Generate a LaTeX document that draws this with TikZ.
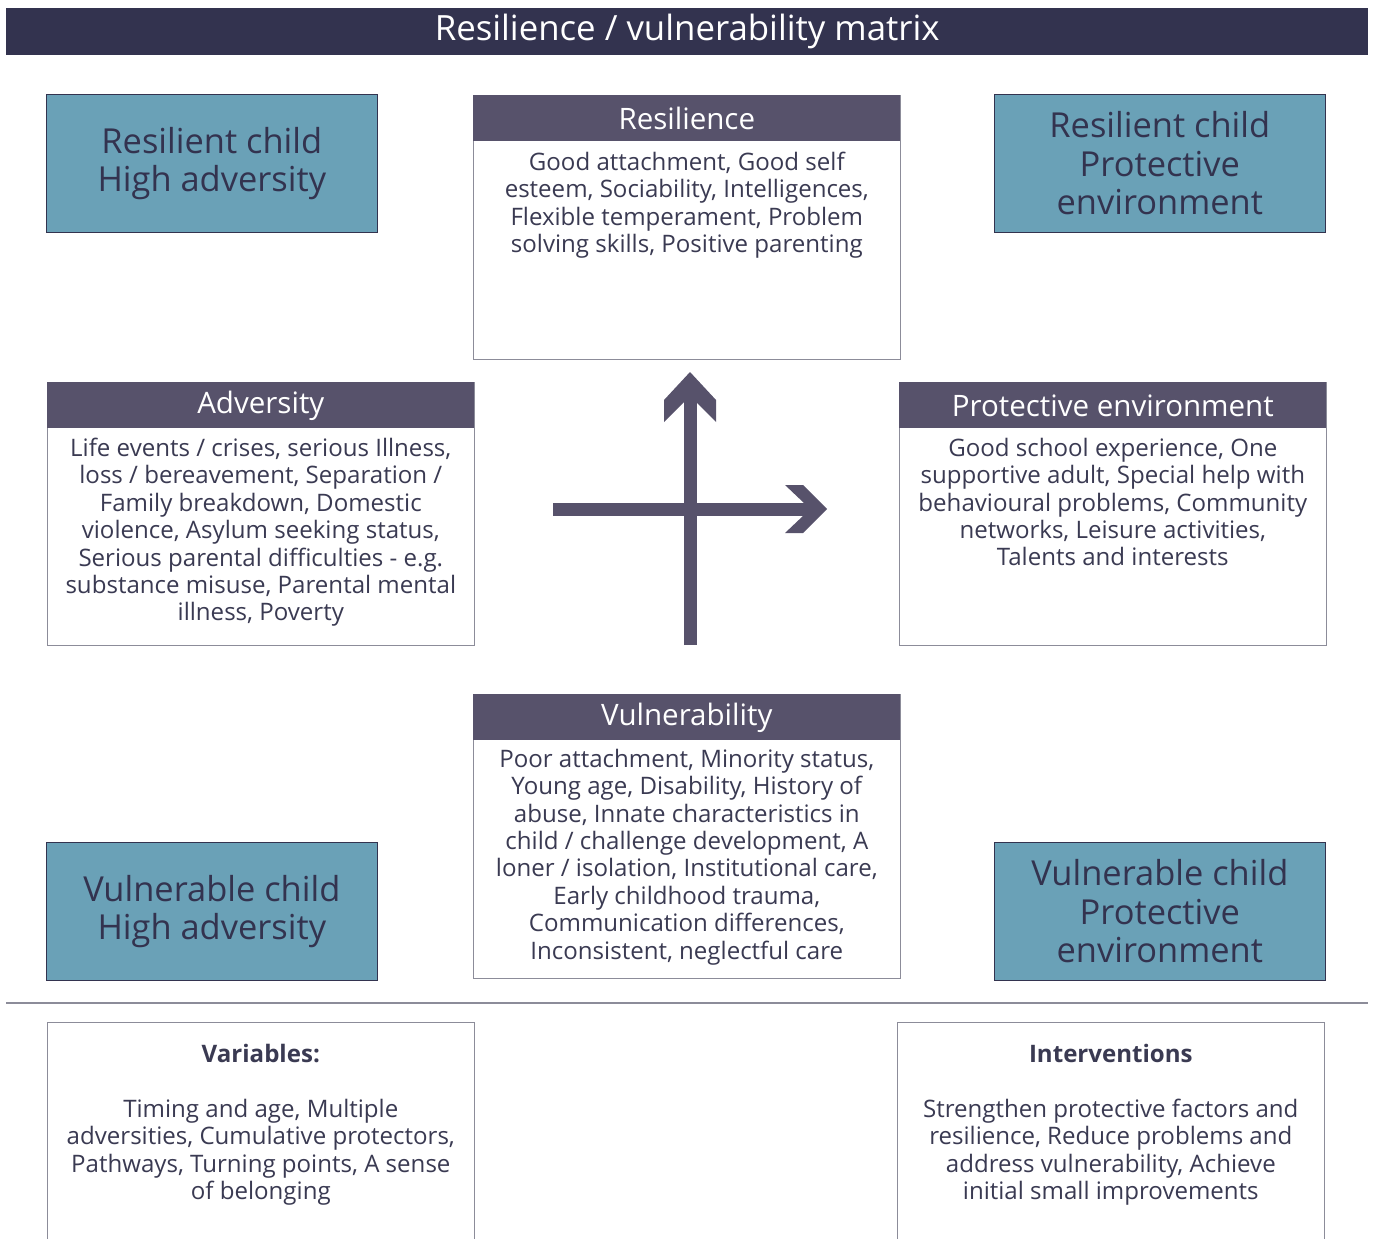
\documentclass[tikz,border=0pt]{standalone}
\usepackage{fontspec}
\setmainfont{Open Sans}
\usetikzlibrary{positioning}
\definecolor{navy}{HTML}{33334F}
\definecolor{slate}{HTML}{57526B}
\definecolor{tealbox}{HTML}{6AA1B7}
\definecolor{inkc}{HTML}{3A3A52}
\definecolor{edgec}{HTML}{8C8C99}
\begin{document}
\begin{tikzpicture}[x=0.02cm, y=-0.02cm,
    titlebar/.style={fill=navy, text=white, anchor=north west, minimum width=27.24cm, minimum height=0.94cm, inner sep=0pt, font=\fontsize{19.8}{22}\selectfont},
    childbox/.style={draw=navy, fill=tealbox, anchor=north west, minimum width=6.62cm, minimum height=2.76cm, inner sep=0pt, align=center, text=navy, font=\fontsize{19.6}{21.8}\selectfont},
    frame/.style={draw=edgec, fill=white, anchor=north west, minimum width=8.54cm, inner sep=0pt},
    hdr/.style={fill=slate, text=white, anchor=north west, minimum width=8.54cm, minimum height=0.92cm, inner sep=0pt, font=\fontsize{16.8}{19}\selectfont},
    body/.style={anchor=north, inner sep=0pt, align=center, text=inkc, font=\fontsize{13.7}{15.6}\selectfont},
    axis/.style={draw=slate, line width=0.26cm},
    tip/.style={fill=slate}]

    \useasboundingbox (0,0) rectangle (1375,1238);

    \node[titlebar] (ttl) at (6,8) {Resilience / vulnerability matrix};

    % corner boxes
    \node[childbox] (rh) at (46,94) {Resilient child\\High adversity};
    \node[childbox] (rp) at (994,94) {Resilient child\\Protective\\environment};
    \node[childbox] (vh) at (46,842) {Vulnerable child\\High adversity};
    \node[childbox] (vp) at (994,842) {Vulnerable child\\Protective\\environment};

    % resilience
    \node[frame, minimum height=5.28cm] (res) at (473,95) {};
    \node[hdr] (reshd) at (res.north west) {Resilience};
    \node[body, below=0.2cm of reshd] (restx) {Good attachment, Good self\\esteem, Sociability, Intelligences,\\Flexible temperament, Problem\\solving skills, Positive parenting};

    % adversity
    \node[frame, minimum height=5.26cm] (adv) at (47,382) {};
    \node[hdr] (advhd) at (adv.north west) {Adversity};
    \node[body, below=0.18cm of advhd] (advtx) {Life events / crises, serious Illness,\\loss / bereavement, Separation /\\Family breakdown, Domestic\\violence, Asylum seeking status,\\Serious parental difficulties - e.g.\\substance misuse, Parental mental\\illness, Poverty};

    % protective environment
    \node[frame, minimum height=5.26cm] (pro) at (899,382) {};
    \node[hdr] (prohd) at (pro.north west) {Protective environment};
    \node[body, below=0.18cm of prohd] (protx) {Good school experience, One\\supportive adult, Special help with\\behavioural problems, Community\\networks, Leisure activities,\\Talents and interests};

    % vulnerability
    \node[frame, minimum height=5.68cm] (vul) at (473,694) {};
    \node[hdr] (vulhd) at (vul.north west) {Vulnerability};
    \node[body, below=0.16cm of vulhd] (vultx) {Poor attachment, Minority status,\\Young age, Disability, History of\\abuse, Innate characteristics in\\child / challenge development, A\\loner / isolation, Institutional care,\\Early childhood trauma,\\Communication differences,\\Inconsistent, neglectful care};

    % axes
    \coordinate (vbot) at (690,645);
    \coordinate (vtop) at (690,372);
    \coordinate (hlft) at (553,509);
    \coordinate (hrgt) at (827,509);
    \draw[axis] (vbot) -- ([yshift=-0.5cm]vtop);
    \draw[axis] (hlft) -- ([xshift=-0.36cm]hrgt);
    \fill[tip] (vtop) -- ++(26,28) -- ++(0,22) -- ++(-20,-20) -- ++(-12,0) -- ++(-20,20) -- ++(0,-22) -- cycle;
    \fill[tip] (hrgt) -- ++(-24,24) -- ++(-18,0) -- ++(19,-18) -- ++(0,-12) -- ++(-19,-18) -- ++(18,0) -- cycle;

    \draw[edgec, line width=0.04cm] (6,1003) -- (1368,1003);

    % bottom boxes
    \node[frame, minimum height=4.8cm] (var) at (47,1022) {};
    \node[body, below=0.44cm of var.north] (vartx) {\textbf{Variables:}\\[15.6pt]Timing and age, Multiple\\adversities, Cumulative protectors,\\Pathways, Turning points, A sense\\of belonging};
    \node[frame, minimum height=4.8cm] (int) at (897,1022) {};
    \node[body, below=0.44cm of int.north] (inttx) {\textbf{Interventions}\\[15.6pt]Strengthen protective factors and\\resilience, Reduce problems and\\address vulnerability, Achieve\\initial small improvements};
\end{tikzpicture}
\end{document}
